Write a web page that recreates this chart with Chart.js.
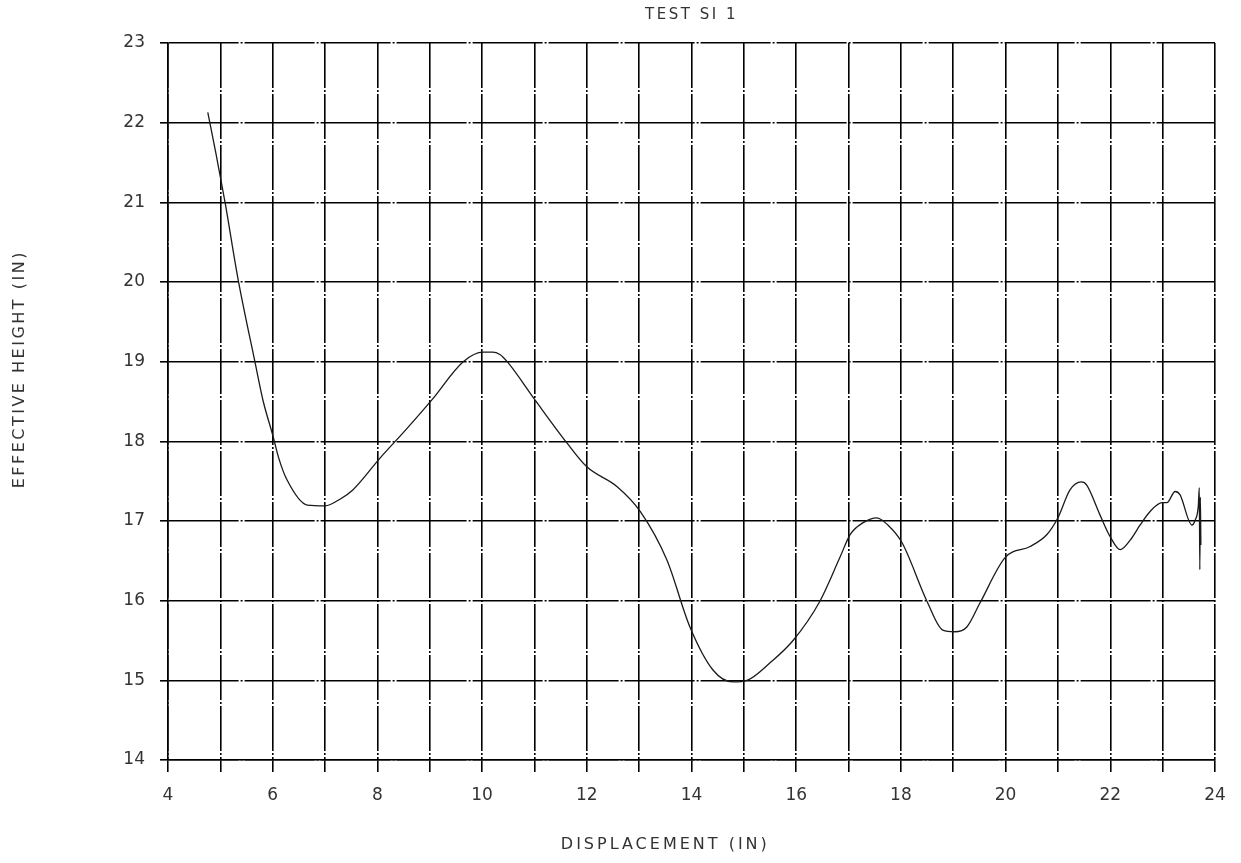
<!DOCTYPE html>
<html>
<head>
<meta charset="utf-8">
<title>TEST SI 1</title>
<script src="https://cdn.jsdelivr.net/npm/chart.js@4.4.1/dist/chart.umd.min.js"></script>
<style>
  html, body { margin: 0; padding: 0; background: #fff; }
  #wrap { width: 1241px; height: 863px; position: relative; }
</style>
</head>
<body>
<div id="wrap"><canvas id="heightChart"></canvas></div>
<script>
// ------------------------
// Data: displacement (in) vs effective height (in)
// ------------------------
const displacement = [
  4.76, 4.92, 5.09, 5.34, 5.66, 5.82, 6.0, 6.12, 6.27, 6.66, 7.0,
  7.3, 7.53, 8.05, 8.55, 9.04, 9.64, 10.02, 10.2, 10.34, 10.48,
  11.01, 11.62, 12.0, 12.58, 13.02, 13.53, 13.97, 14.41, 14.79, 15.06,
  15.5, 15.94, 16.45, 16.84, 17.03, 17.28, 17.54, 17.75, 18.02, 18.5,
  18.8, 19.03, 19.26, 19.51, 19.99, 20.47, 20.79, 21.0, 21.23, 21.45,
  21.55, 21.8, 22.0, 22.19, 22.38, 22.57, 22.76, 22.99, 23.08, 23.24,
  23.33, 23.56, 23.62, 23.68, 23.70, 23.71, 23.72, 23.73
];
const effHeight = [
  22.13, 21.6, 21.0, 20.03, 19.0, 18.5, 18.08, 17.78, 17.52, 17.2, 17.19,
  17.28, 17.39, 17.79, 18.15, 18.52, 19.0, 19.12, 19.12, 19.09, 19.0,
  18.52, 17.98, 17.68, 17.43, 17.12, 16.51, 15.67, 15.13, 14.98, 15.0,
  15.22, 15.5, 15.99, 16.55, 16.83, 16.98, 17.04, 16.95, 16.73, 15.99,
  15.63, 15.61, 15.67, 15.97, 16.54, 16.68, 16.83, 17.04, 17.39, 17.49,
  17.45, 17.08, 16.8, 16.64, 16.76, 16.95, 17.12, 17.23, 17.23, 17.37,
  17.33, 16.95, 17.01, 17.18, 17.42, 16.39, 17.3, 16.7
];

const xTicks = [4, 6, 8, 10, 12, 14, 16, 18, 20, 22, 24];
const yTicks = [14, 15, 16, 17, 18, 19, 20, 21, 22, 23];

const chartTitle = "TEST SI 1";
const xTitle = "DISPLACEMENT (IN)";
const yTitle = "EFFECTIVE HEIGHT (IN)";

const points = displacement.map((x, i) => ({ x: x, y: effHeight[i] }));

const FONT = '"DejaVu Sans", "Liberation Sans", sans-serif';
const INK = "#333";

// title + axis titles drawn by hand so they sit where the plotter put them
const plotterText = {
  id: "plotterText",
  afterDraw(chart) {
    const { ctx, chartArea } = chart;
    const midX = (chartArea.left + chartArea.right) / 2;
    ctx.save();
    ctx.fillStyle = INK;
    ctx.textAlign = "center";
    ctx.textBaseline = "middle";

    ctx.font = "15px " + FONT;
    ctx.letterSpacing = "2.5px";
    ctx.fillText(chartTitle, midX, 15);

    ctx.font = "16px " + FONT;
    ctx.letterSpacing = "3px";
    ctx.fillText(xTitle, chartArea.left + chartArea.width * 0.475, chartArea.bottom + 85);

    ctx.font = "16px " + FONT;
    ctx.letterSpacing = "2.5px";
    ctx.translate(20, chartArea.top + chartArea.height * 0.455);
    ctx.rotate(-Math.PI / 2);
    ctx.fillText(yTitle, 0, 0);
    ctx.restore();
  }
};

new Chart(document.getElementById("heightChart"), {
  type: "line",
  data: {
    datasets: [{
      data: points,
      borderColor: "#1a1a1a",
      borderWidth: 1.3,
      pointRadius: 0,
      fill: false,
      cubicInterpolationMode: "monotone"
    }]
  },
  options: {
    responsive: true,
    maintainAspectRatio: false,
    animation: false,
    layout: { padding: { left: 0, right: 26, top: 43, bottom: 0 } },
    plugins: {
      legend: { display: false },
      tooltip: { enabled: false },
      title: { display: false }
    },
    scales: {
      x: {
        type: "linear",
        min: 4,
        max: 24,
        afterFit(scale) { scale.height = 103; },
        ticks: {
          stepSize: 1,
          padding: 13,
          color: INK,
          font: { family: FONT, size: 17 },
          maxRotation: 0,
          autoSkip: false,
          callback: (v) => xTicks.includes(v) ? String(v) : ""
        },
        grid: { color: "#000", lineWidth: 1.6, tickLength: 12, drawTicks: true },
        border: { display: true, color: "#000", width: 1.6, dash: [45, 2, 2, 2] }
      },
      y: {
        min: 14,
        max: 23,
        afterFit(scale) { scale.width = 168; },
        ticks: {
          stepSize: 1,
          padding: 15,
          color: INK,
          font: { family: FONT, size: 17 },
          callback: (v) => yTicks.includes(v) ? String(v) : ""
        },
        grid: { color: "#000", lineWidth: 1.6, tickLength: 8, drawTicks: true },
        border: { display: true, color: "#000", width: 1.6, dash: [70, 2, 2, 2] }
      }
    }
  },
  plugins: [plotterText]
});
</script>
</body>
</html>
